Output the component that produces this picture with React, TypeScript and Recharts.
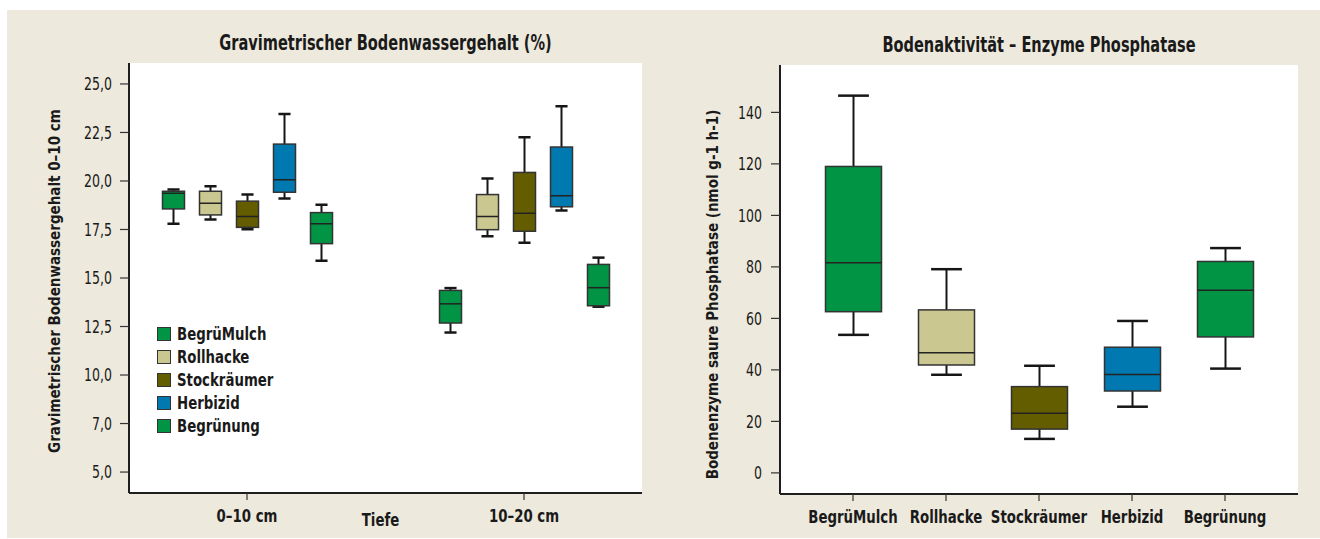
import React from 'react';
import { ComposedChart, Bar, XAxis, YAxis, Legend, Cell } from 'recharts';

const FONT = "'Liberation Sans Narrow', 'DejaVu Sans Condensed', sans-serif";
const SQUEEZE = 0.8;

const depths = ['0–10 cm', '10–20 cm'];
const treatments = ['BegrüMulch', 'Rollhacke', 'Stockräumer', 'Herbizid', 'Begrünung'];
const treatmentColors = ['#009444', '#cbc791', '#645d00', '#0079b0', '#009444'];

// [min, q1, median, q3, max] for 0–10 cm and 10–20 cm
const begruMulchWater = [[17.8, 18.56, 19.37, 19.47, 19.56], [12.19, 12.68, 13.67, 14.36, 14.48]];
const rollhackeWater = [[18.01, 18.25, 18.85, 19.47, 19.73], [17.15, 17.49, 18.17, 19.3, 20.13]];
const stockraeumerWater = [[17.51, 17.61, 18.17, 18.96, 19.3], [16.82, 17.41, 18.34, 20.44, 22.25]];
const herbizidWater = [[19.1, 19.42, 20.06, 21.9, 23.45], [18.48, 18.67, 19.24, 21.75, 23.85]];
const begruenungWater = [[15.89, 16.77, 17.8, 18.37, 18.77], [13.52, 13.57, 14.5, 15.7, 16.05]];

const waterTicks = [5, 7.5, 10, 12.5, 15, 17.5, 20, 22.5, 25];
const waterTickLabels = ['5,0', '7,0', '10,0', '12,5', '15,0', '17,5', '20,0', '22,5', '25,0'];

// [min, q1, median, q3, max] per treatment
const phosphataseStats = [
  [53.6, 62.6, 81.6, 119.0, 146.5],
  [38.1, 41.9, 46.7, 63.3, 79.1],
  [13.2, 17.0, 23.2, 33.5, 41.6],
  [25.7, 31.8, 38.2, 48.8, 59.0],
  [40.5, 52.8, 70.9, 82.1, 87.3],
];
const phosphataseTicks = [0, 20, 40, 60, 80, 100, 120, 140];

const waterSeries = [begruMulchWater, rollhackeWater, stockraeumerWater, herbizidWater, begruenungWater];

const waterRows = depths.map((depth, i) => {
  const row: any = { depth };
  treatments.forEach((t, k) => {
    row[t] = waterSeries[k][i];
  });
  return row;
});

const phosphataseRows = treatments.map((t, i) => ({ treatment: t, stats: phosphataseStats[i] }));

// draws a box plot inside the whisker range bar that recharts laid out
const BoxShape = (props: any) => {
  const { x, y, width, height, fill, stats } = props;
  const [min, q1, med, q3, max] = stats;
  const toY = (v: number) => y + ((max - v) / (max - min)) * height;
  const cx = x + width / 2;
  const cap = width * 0.55;
  return (
    <g>
      <line x1={cx} x2={cx} y1={toY(max)} y2={toY(min)} stroke="#161616" strokeWidth={2} />
      <line x1={cx - cap / 2} x2={cx + cap / 2} y1={toY(max)} y2={toY(max)} stroke="#161616" strokeWidth={2.5} />
      <line x1={cx - cap / 2} x2={cx + cap / 2} y1={toY(min)} y2={toY(min)} stroke="#161616" strokeWidth={2.5} />
      <rect x={x} y={toY(q3)} width={width} height={toY(q1) - toY(q3)} fill={fill} stroke="#333" strokeWidth={1.5} />
      <line x1={x} x2={x + width} y1={toY(med)} y2={toY(med)} stroke="#222" strokeWidth={1.5} />
    </g>
  );
};

const XTick = (props: any) => {
  const { x, y, payload } = props;
  return (
    <text
      transform={`translate(${x} ${y}) scale(${SQUEEZE} 1)`}
      textAnchor="middle"
      dy="0.72em"
      fontFamily={FONT}
      fontWeight="bold"
      fontSize={18.5}
      fill="#1a1a1a"
    >
      {payload.value}
    </text>
  );
};

const YTick = (props: any) => {
  const { x, y, payload, labels, ticks } = props;
  const text = labels ? labels[ticks.indexOf(payload.value)] : String(payload.value);
  return (
    <text
      transform={`translate(${x} ${y}) scale(0.82 1)`}
      textAnchor="end"
      dy="0.36em"
      fontFamily={FONT}
      fontSize={17}
      fill="#1a1a1a"
    >
      {text}
    </text>
  );
};

const rotatedLabel = (text: string, dx: number, dy: number) => (props: any) => {
  const { x, y, height } = props.viewBox;
  const cx = x + dx;
  const cy = y + height / 2 + dy;
  return (
    <text
      x={cx}
      y={cy}
      transform={`rotate(-90 ${cx} ${cy})`}
      textAnchor="middle"
      dominantBaseline="central"
      fontFamily={FONT}
      fontWeight="bold"
      fontSize={15}
      fill="#1a1a1a"
    >
      {text}
    </text>
  );
};

const LegendList = (props: any) => {
  const items = [...props.payload].sort(
    (a: any, b: any) => treatments.indexOf(a.value) - treatments.indexOf(b.value)
  );
  return (
    <div style={{ fontFamily: FONT, fontWeight: 'bold', fontSize: 18.5, color: '#1a1a1a' }}>
      {items.map((entry: any) => (
        <div key={entry.value} style={{ display: 'flex', alignItems: 'center', height: 23, whiteSpace: 'nowrap' }}>
          <span
            style={{
              display: 'inline-block',
              width: 12,
              height: 12,
              background: entry.color,
              border: '1px solid #333',
              marginRight: 6,
            }}
          />
          <span style={{ display: 'inline-block', transform: `scaleX(${SQUEEZE})`, transformOrigin: 'left center' }}>
            {entry.value}
          </span>
        </div>
      ))}
    </div>
  );
};

const titleStyle: React.CSSProperties = {
  position: 'absolute',
  textAlign: 'center',
  fontFamily: FONT,
  fontWeight: 'bold',
  fontSize: 20.5,
  color: '#1a1a1a',
  transform: 'scaleX(0.79)',
  transformOrigin: 'center',
};

const axisLine = { stroke: '#1e1e1e', strokeWidth: 2 };
const tickLine = { stroke: '#333', strokeWidth: 1.2 };

const App = () => (
  <div style={{ position: 'absolute', left: 0, top: 0, width: 1320, height: 539, background: '#fff' }}>
    <div style={{ position: 'absolute', left: 7, top: 10, width: 1313, height: 528, background: '#ede9dc' }} />

    <div style={{ ...titleStyle, left: 129, top: 31, width: 513 }}>Gravimetrischer Bodenwassergehalt (%)</div>
    <div style={{ ...titleStyle, left: 780, top: 33, width: 518 }}>Bodenaktivität – Enzyme Phosphatase</div>

    <div style={{ position: 'absolute', left: 0, top: 0 }}>
      <ComposedChart
        width={660}
        height={539}
        data={waterRows}
        margin={{ top: 63, right: 18, bottom: 6, left: 20 }}
        barGap={15}
        barSize={22}
      >
        <rect x={129} y={63} width={513} height={430} fill="#fff" />
        <XAxis
          dataKey="depth"
          padding={{ left: -20.5, right: -20.5 }}
          height={40}
          axisLine={axisLine}
          tickLine={tickLine}
          tickSize={7}
          tickMargin={9}
          tick={<XTick />}
          label={(props: any) => {
            const { x, y, width } = props.viewBox;
            const lx = x + width / 2 - 5;
            const ly = y + 26;
            return (
              <text
                transform={`translate(${lx} ${ly}) scale(${SQUEEZE} 1)`}
                textAnchor="middle"
                dominantBaseline="central"
                fontFamily={FONT}
                fontWeight="bold"
                fontSize={18.5}
                fill="#1a1a1a"
              >
                Tiefe
              </text>
            );
          }}
        />
        <XAxis xAxisId="top" orientation="top" height={0} tick={false} tickLine={false} axisLine={axisLine} />
        <YAxis
          type="number"
          domain={[3.92, 26.08]}
          allowDataOverflow
          ticks={waterTicks}
          width={109}
          axisLine={axisLine}
          tickLine={tickLine}
          tickSize={9}
          tickMargin={8}
          tick={<YTick labels={waterTickLabels} ticks={waterTicks} />}
          label={rotatedLabel('Gravimetrischer Bodenwassergehalt 0–10 cm', 35, 3)}
        />
        <YAxis
          yAxisId="right"
          orientation="right"
          width={0}
          domain={[3.92, 26.08]}
          tick={false}
          tickLine={false}
          axisLine={axisLine}
        />
        <Legend
          layout="vertical"
          align="center"
          verticalAlign="middle"
          wrapperStyle={{ left: 157, top: 322, width: 'auto' }}
          content={<LegendList />}
        />
        {treatments.map((t, k) => (
          <Bar
            key={t}
            name={t}
            dataKey={(row: any) => [row[t][0], row[t][4]]}
            fill={treatmentColors[k]}
            isAnimationActive={false}
            shape={(p: any) => <BoxShape {...p} stats={p.payload[t]} />}
          />
        ))}
      </ComposedChart>
    </div>

    <div style={{ position: 'absolute', left: 660, top: 0 }}>
      <ComposedChart
        width={660}
        height={539}
        data={phosphataseRows}
        margin={{ top: 65, right: 22, bottom: 5, left: 20 }}
        barSize={56}
      >
        <rect x={120} y={65} width={518} height={429} fill="#fff" />
        <XAxis
          dataKey="treatment"
          padding={{ left: 26.5, right: 26.5 }}
          height={40}
          axisLine={axisLine}
          tickLine={tickLine}
          tickSize={7}
          tickMargin={9}
          interval={0}
          tick={<XTick />}
        />
        <XAxis xAxisId="top" orientation="top" height={0} tick={false} tickLine={false} axisLine={axisLine} />
        <YAxis
          type="number"
          domain={[-8.2, 158.4]}
          allowDataOverflow
          ticks={phosphataseTicks}
          width={100}
          axisLine={axisLine}
          tickLine={tickLine}
          tickSize={9}
          tickMargin={9}
          tick={<YTick />}
          label={rotatedLabel('Bodenenzyme saure Phosphatase (nmol g-1 h-1)', 33, 15)}
        />
        <YAxis
          yAxisId="right"
          orientation="right"
          width={0}
          domain={[-8.2, 158.4]}
          tick={false}
          tickLine={false}
          axisLine={axisLine}
        />
        <Bar
          dataKey={(row: any) => [row.stats[0], row.stats[4]]}
          isAnimationActive={false}
          shape={(p: any) => <BoxShape {...p} stats={p.payload.stats} />}
        >
          {phosphataseRows.map((row, i) => (
            <Cell key={row.treatment} fill={treatmentColors[i]} />
          ))}
        </Bar>
      </ComposedChart>
    </div>
  </div>
);

export default App;
